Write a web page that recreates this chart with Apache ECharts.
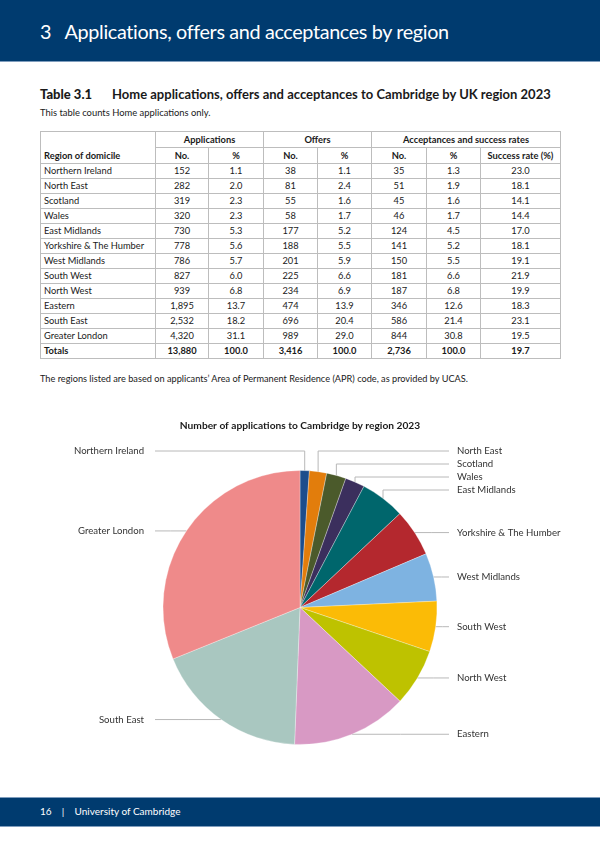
<!DOCTYPE html>
<html>
<head>
<meta charset="utf-8">
<script src="https://cdn.jsdelivr.net/npm/echarts@6/dist/echarts.min.js"></script>
<style>
  html, body { margin: 0; padding: 0; background: #fff; }
  body { width: 600px; height: 848px; position: relative; overflow: hidden; font-family: Lato, "Open Sans", sans-serif; color: #1a1a1a; }
  .band { position: absolute; left: 0; width: 600px; background: #003b6f; color: #fff; }
  #head { top: 0; height: 61px; border-bottom: 1px solid #7f9dbd; }
  #head span { position: absolute; left: 40px; top: 19px; font-size: 19.8px; font-weight: 400; letter-spacing: -0.35px; }
  #foot { top: 797px; height: 28px; border-top: 1px solid #7f9dbd; border-bottom: 1px solid #7f9dbd; }
  #foot span { position: absolute; left: 40px; top: 7px; font-size: 10px; }
  #ttl { position: absolute; left: 40px; top: 86px; font-size: 13px; font-weight: 700; white-space: nowrap; }
  #ttl b { display: inline-block; width: 72px; }
  #sub { position: absolute; left: 40px; top: 107px; font-size: 9.4px; }
  #note { position: absolute; left: 40px; top: 373px; font-size: 9.2px; }
  table { position: absolute; left: 40px; top: 131px; width: 520px; border-collapse: collapse; table-layout: fixed; font-size: 9.3px; }
  td { border: 1px solid #bdbdbd; text-align: center; padding: 0; height: 14px; line-height: 14px; }
  td.r { text-align: left; padding-left: 3px; }
  tr.h td { font-weight: 700; height: 15px; }
  tr.t td { font-weight: 700; }
  #chart { position: absolute; left: 0; top: 400px; width: 600px; height: 390px; }
</style>
</head>
<body>
<div class="band" id="head"><span>3&nbsp;&nbsp;&nbsp;Applications, offers and acceptances by region</span></div>
<div id="ttl"><b>Table 3.1</b>Home applications, offers and acceptances to Cambridge by UK region 2023</div>
<div id="sub">This table counts Home applications only.</div>
<table id="tbl">
  <colgroup>
    <col style="width:115px"><col style="width:53px"><col style="width:55px"><col style="width:54px">
    <col style="width:54px"><col style="width:55px"><col style="width:54px"><col style="width:80px">
  </colgroup>
  <tbody id="tb"></tbody>
</table>
<div id="note">The regions listed are based on applicants’ Area of Permanent Residence (APR) code, as provided by UCAS.</div>
<div id="chart"></div>
<div class="band" id="foot"><span>16&nbsp;&nbsp;&nbsp;&nbsp;|&nbsp;&nbsp;&nbsp;&nbsp;University of Cambridge</span></div>

<script>
// 表格和饼图的数据
var regions = ['Northern Ireland', 'North East', 'Scotland', 'Wales', 'East Midlands', 'Yorkshire & The Humber',
  'West Midlands', 'South West', 'North West', 'Eastern', 'South East', 'Greater London']
var appNo = [152, 282, 319, 320, 730, 778, 786, 827, 939, 1895, 2532, 4320]
var appPct = ['1.1', '2.0', '2.3', '2.3', '5.3', '5.6', '5.7', '6.0', '6.8', '13.7', '18.2', '31.1']
var offNo = [38, 81, 55, 58, 177, 188, 201, 225, 234, 474, 696, 989]
var offPct = ['1.1', '2.4', '1.6', '1.7', '5.2', '5.5', '5.9', '6.6', '6.9', '13.9', '20.4', '29.0']
var accNo = [35, 51, 45, 46, 124, 141, 150, 181, 187, 346, 586, 844]
var accPct = ['1.3', '1.9', '1.6', '1.7', '4.5', '5.2', '5.5', '6.6', '6.8', '12.6', '21.4', '30.8']
var successRate = ['23.0', '18.1', '14.1', '14.4', '17.0', '18.1', '19.1', '21.9', '19.9', '18.3', '23.1', '19.5']
var totals = ['Totals', '13,880', '100.0', '3,416', '100.0', '2,736', '100.0', '19.7']
var sliceColors = ['#1c4d8c', '#e27d0c', '#4b5a2b', '#3b2f5d', '#00666c', '#b4282e',
  '#7eb3e1', '#fbbb06', '#bec200', '#d899c4', '#a9c7c0', '#ef8a8a']

// 生成表格
var fmt = function (n) { return n.toLocaleString('en-GB') }
var html = '<tr class="h"><td rowspan="2" class="r" style="vertical-align:bottom">Region of domicile</td>' +
  '<td colspan="2">Applications</td><td colspan="2">Offers</td><td colspan="3">Acceptances and success rates</td></tr>' +
  '<tr class="h"><td>No.</td><td>%</td><td>No.</td><td>%</td><td>No.</td><td>%</td><td>Success rate (%)</td></tr>'
regions.forEach(function (r, i) {
  html += '<tr><td class="r">' + r.replace('&', '&amp;') + '</td><td>' + fmt(appNo[i]) + '</td><td>' + appPct[i] +
    '</td><td>' + offNo[i] + '</td><td>' + offPct[i] + '</td><td>' + accNo[i] + '</td><td>' + accPct[i] +
    '</td><td>' + successRate[i] + '</td></tr>'
})
html += '<tr class="t">' + totals.map(function (t, i) { return '<td' + (i ? '' : ' class="r"') + '>' + t + '</td>' }).join('') + '</tr>'
document.getElementById('tb').innerHTML = html

// 饼图
var CX = 300, CY = 207.5, R = 137
var total = appNo.reduce(function (a, b) { return a + b }, 0)

// 扇区中点角度
function midAngle(i) {
  var before = 0
  for (var k = 0; k < i; k++) before += appNo[k]
  return (before + appNo[i] / 2) / total * Math.PI * 2
}
function onRight(a) { return Math.sin(a) > 0.05 }

function layoutLabel(params) {
  var i = params.dataIndex
  var mid = midAngle(i)
  var ex = CX + R * Math.sin(mid)
  var ey = CY - R * Math.cos(mid)
  var right = onRight(mid)
  var endX = right ? 449 : 155
  var ly = ey
  var pts
  if (Math.cos(mid) > 0.75) {
    // 顶部的小扇区：竖线上去再横向
    var idx = 0
    for (var j = 0; j < i; j++) {
      var a = midAngle(j)
      if (Math.cos(a) > 0.75 && onRight(a) === right) idx++
    }
    ly = CY - R - 19.5 + idx * 13
    pts = [[ex, ey], [ex, ly], [endX, ly]]
  } else {
    pts = [[ex, ey], [(ex + endX) / 2, ey], [endX, ey]]
  }
  return {
    x: right ? 457 : 144,
    y: ly,
    align: right ? 'left' : 'right',
    verticalAlign: 'middle',
    labelLinePoints: pts
  }
}

var myChart = echarts.init(document.getElementById('chart'))
myChart.setOption({
  animation: false,
  title: {
    text: 'Number of applications to Cambridge by region 2023',
    left: 'center',
    top: 16,
    textStyle: { fontFamily: 'Lato', fontSize: 10.2, fontWeight: 'bold', color: '#1a1a1a' }
  },
  series: [
    {
      type: 'pie',
      center: [CX, CY],
      radius: R,
      startAngle: 90,
      clockwise: true,
      avoidLabelOverlap: false,
      data: regions.map(function (r, i) {
        return { name: r, value: appNo[i], itemStyle: { color: sliceColors[i] } }
      }),
      itemStyle: { borderColor: 'rgba(255,255,255,0.6)', borderWidth: 0.5 },
      label: { formatter: '{b}', fontFamily: 'Lato', fontSize: 9.6, color: '#333' },
      labelLine: { show: true, lineStyle: { color: '#b8b8b8', width: 1 } },
      labelLayout: layoutLabel,
      emphasis: { disabled: true }
    }
  ]
})
</script>
</body>
</html>
